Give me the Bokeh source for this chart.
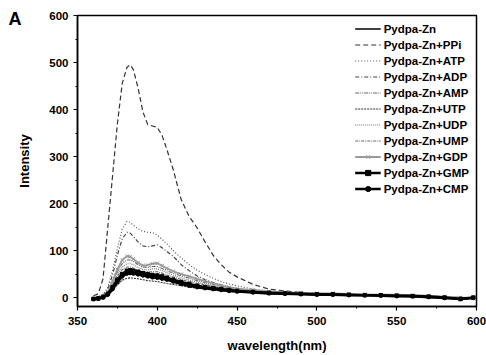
from bokeh.plotting import figure
from bokeh.models import Range1d, SingleIntervalTicker, Title, Legend
from bokeh.embed import file_html
from bokeh.resources import INLINE

# wavelengths (nm)
wl = [360, 363, 366, 369, 372, 375, 378, 381, 383, 385, 388, 391, 394, 397, 400, 403, 406, 410, 415, 420,
      425, 430, 435, 440, 445, 450, 460, 470, 480, 490, 500, 510, 520, 530, 540, 550, 560, 570, 580, 590, 598]

zn = [-3, -2, 1, 7, 20, 36, 48, 54, 55, 54, 52, 50, 48, 46, 45, 43, 40, 36, 31, 27,
      24, 21, 19, 17, 15, 14, 12, 10, 9, 8, 7, 7, 6, 5, 5, 4, 3, 2, 0, -3, 0]
ppi = [4, 8, 40, 150, 260, 370, 455, 490, 495, 485, 445, 395, 368, 365, 362, 345, 315, 272, 208, 172,
       148, 118, 90, 70, 54, 44, 28, 18, 14, 11, 9, 8, 7, 6, 5, 4, 3, 2, 1, -1, 0]
atp = [0, 2, 6, 22, 58, 105, 145, 162, 160, 154, 146, 141, 139, 138, 133, 124, 114, 100, 84, 70,
       58, 49, 41, 34, 29, 25, 18, 14, 11, 9, 8, 7, 6, 6, 5, 4, 3, 2, 1, -1, 0]
adp = [0, 1, 5, 18, 48, 90, 125, 139, 137, 130, 118, 110, 108, 110, 112, 106, 98, 88, 70, 57,
       46, 38, 32, 27, 22, 19, 15, 12, 10, 9, 8, 7, 6, 5, 5, 4, 3, 2, 1, -1, 0]
amp = [-2, 0, 3, 10, 30, 55, 72, 80, 80, 77, 70, 65, 64, 66, 66, 62, 57, 52, 46, 41,
       36, 32, 28, 24, 21, 18, 15, 12, 10, 9, 8, 8, 7, 6, 6, 5, 4, 3, 2, 0, 0]
utp = [-3, -2, 0, 5, 15, 27, 37, 41, 42, 41, 40, 38, 36, 35, 34, 32, 30, 28, 25, 22,
       20, 18, 16, 14, 13, 12, 10, 9, 8, 7, 6, 6, 5, 5, 4, 3, 3, 2, 0, -2, 0]
udp = [-2, 0, 2, 9, 27, 50, 65, 72, 72, 70, 64, 60, 59, 61, 61, 57, 53, 48, 42, 37,
       33, 29, 25, 22, 19, 17, 14, 12, 10, 9, 8, 8, 7, 6, 6, 5, 4, 3, 2, 0, 0]
ump = [-2, -1, 2, 8, 24, 45, 59, 65, 65, 63, 58, 55, 54, 55, 55, 52, 48, 44, 38, 34,
       30, 27, 24, 21, 18, 16, 13, 11, 10, 9, 8, 7, 7, 6, 5, 5, 4, 3, 1, -1, 0]
gdp = [-2, 0, 3, 12, 35, 60, 80, 88, 87, 82, 74, 68, 69, 72, 73, 68, 62, 56, 50, 45,
       40, 35, 30, 26, 22, 19, 16, 13, 11, 10, 9, 9, 8, 7, 6, 6, 5, 4, 2, 0, 0]
gmp = [-3, -2, 1, 8, 22, 38, 50, 57, 58, 57, 55, 52, 50, 48, 47, 45, 42, 38, 33, 29,
       25, 22, 20, 18, 16, 14, 12, 10, 9, 8, 7, 7, 6, 5, 5, 4, 3, 2, 0, -3, 0]
cmp_ = [-3, -2, 0, 6, 18, 33, 45, 51, 52, 51, 49, 47, 45, 43, 42, 40, 38, 34, 29, 25,
        22, 20, 18, 16, 14, 13, 11, 9, 8, 7, 6, 6, 5, 5, 4, 3, 3, 1, -1, -3, -1]

labels = ["Pydpa-Zn", "Pydpa-Zn+PPi", "Pydpa-Zn+ATP", "Pydpa-Zn+ADP", "Pydpa-Zn+AMP", "Pydpa-Zn+UTP",
          "Pydpa-Zn+UDP", "Pydpa-Zn+UMP", "Pydpa-Zn+GDP", "Pydpa-Zn+GMP", "Pydpa-Zn+CMP"]

FONT = "Liberation Sans"

p = figure(width=486, height=355, output_backend="svg", toolbar_location=None,
           x_range=Range1d(350, 600), y_range=Range1d(-19, 600),
           min_border_left=77, min_border_right=10, min_border_top=15, min_border_bottom=46,
           x_axis_label="wavelength(nm)", y_axis_label="Intensity")
p.xgrid.visible = False
p.ygrid.visible = False
p.outline_line_color = "black"
p.outline_line_width = 1.5
p.background_fill_color = "white"
p.border_fill_color = "white"

p.xaxis.ticker = SingleIntervalTicker(interval=50, num_minor_ticks=2)
p.yaxis.ticker = SingleIntervalTicker(interval=100, num_minor_ticks=2)
for ax in (p.xaxis[0], p.yaxis[0]):
    ax.axis_line_color = "black"
    ax.axis_line_width = 1.5
    ax.major_tick_line_width = 1.2
    ax.minor_tick_line_width = 1
    ax.major_tick_in = 0
    ax.major_tick_out = 4
    ax.minor_tick_in = 0
    ax.minor_tick_out = 2
    ax.major_label_text_font = FONT
    ax.major_label_text_font_style = "bold"
    ax.major_label_text_font_size = "11.5px"
    ax.major_label_text_color = "black"
    ax.axis_label_text_font = FONT
    ax.axis_label_text_font_style = "bold"
    ax.axis_label_text_font_size = "13px"
    ax.axis_label_text_color = "black"
p.xaxis.major_label_standoff = 6
p.xaxis.axis_label_standoff = 10
p.yaxis.major_label_standoff = 5
p.yaxis.axis_label_standoff = 14

items = []
r = p.line(wl, zn, line_color="black", line_width=1.6)
items.append((labels[0], [r]))
r = p.line(wl, ppi, line_color="#333333", line_width=1.2, line_dash="5 3")
items.append((labels[1], [r]))
r = p.line(wl, atp, line_color="#555555", line_width=1.2, line_dash="1 2")
items.append((labels[2], [r]))
r = p.line(wl, adp, line_color="#444444", line_width=1.2, line_dash="4 2 1 2")
items.append((labels[3], [r]))
r = p.line(wl, amp, line_color="#666666", line_width=1.1, line_dash="4 1 1 1 1 1")
items.append((labels[4], [r]))
r = p.line(wl, utp, line_color="#333333", line_width=1.1, line_dash="2 1")
items.append((labels[5], [r]))
r = p.line(wl, udp, line_color="#777777", line_width=1.1, line_dash="1 1")
items.append((labels[6], [r]))
r = p.line(wl, ump, line_color="#666666", line_width=1.1, line_dash="3 1 1 1")
items.append((labels[7], [r]))
r1 = p.line(wl, gdp, line_color="#999999", line_width=1.8)
r2 = p.scatter(wl, gdp, marker="x", size=5, line_color="#999999", line_width=1)
items.append((labels[8], [r1, r2]))
r1 = p.line(wl, gmp, line_color="black", line_width=2.6)
r2 = p.scatter(wl, gmp, marker="square", size=3.5, fill_color="black", line_color="black")
items.append((labels[9], [r1, r2]))
r1 = p.line(wl, cmp_, line_color="black", line_width=2.6)
r2 = p.scatter(wl, cmp_, marker="circle", size=3.5, fill_color="black", line_color="black")
items.append((labels[10], [r1, r2]))

legend = Legend(items=items, location="top_right")
legend.border_line_alpha = 0
legend.background_fill_alpha = 0
legend.margin = 0
legend.padding = 7
legend.spacing = 3
legend.glyph_height = 13
legend.label_height = 13
legend.glyph_width = 26
legend.label_standoff = 3
legend.label_text_font = FONT
legend.label_text_font_style = "bold"
legend.label_text_font_size = "11.5px"
legend.label_text_color = "black"
p.add_layout(legend)

p.add_layout(Title(text="A", align="left", offset=-69, standoff=-27, text_font=FONT,
                   text_font_style="bold", text_font_size="18px", text_color="black",
                   text_line_height=0.8), "above")

open("out.html", "w").write(file_html(p, INLINE))
